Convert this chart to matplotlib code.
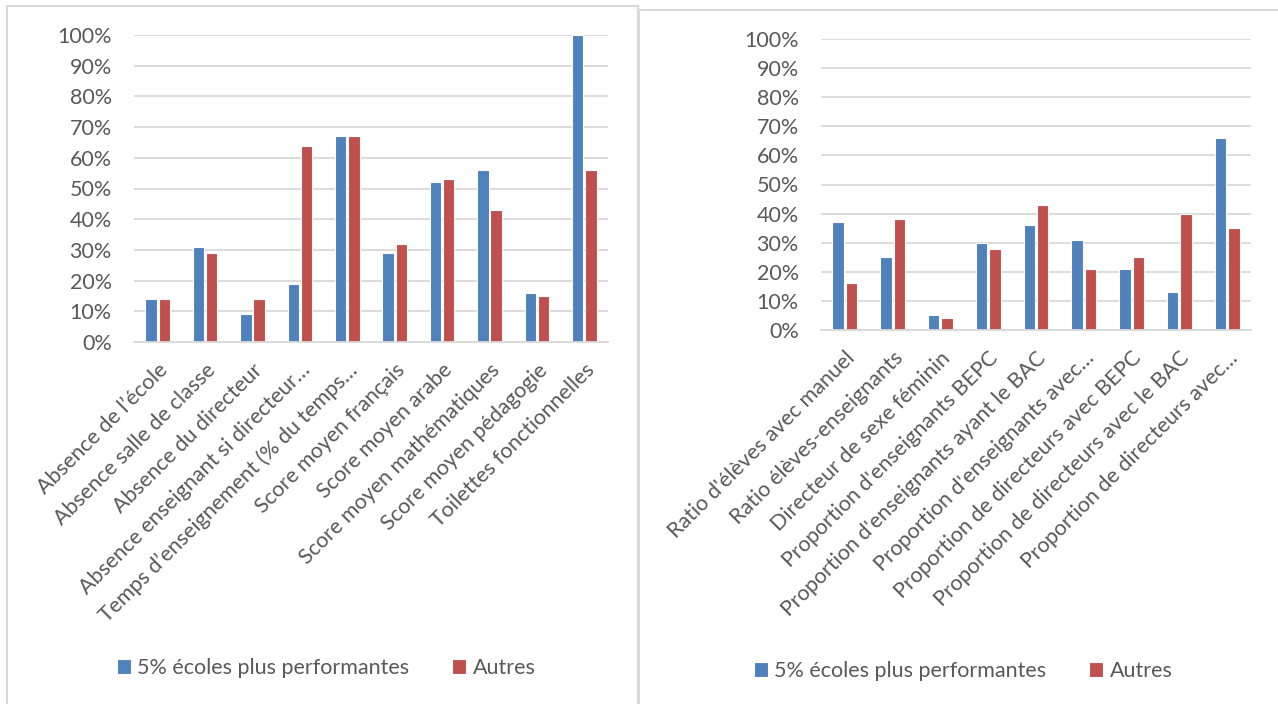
import numpy as np
import matplotlib.pyplot as plt
from matplotlib.patches import Rectangle
from matplotlib.ticker import PercentFormatter

plt.rcParams['font.family'] = ['Lato', 'DejaVu Sans']

BLUE, RED = '#4F81BD', '#C0504D'
TXT, GRID = '#595959', '#D9D9D9'
series_names = ['5% écoles plus performantes', 'Autres']

left_cats = ["Absence de l\u2019école", "Absence salle de classe", "Absence du directeur",
             "Absence enseignant si directeur\u2026", "Temps d\u2019enseignement (% du temps\u2026",
             "Score moyen français", "Score moyen arabe", "Score moyen mathématiques",
             "Score moyen pédagogie", "Toilettes fonctionnelles"]
left_top = [14, 31, 9, 19, 67, 29, 52, 56, 16, 100]
left_other = [14, 29, 14, 64, 67, 32, 53, 43, 15, 56]

right_cats = ["Ratio d'élèves avec manuel", "Ratio élèves-enseignants", "Directeur de sexe féminin",
              "Proportion d'enseignants BEPC", "Proportion d'enseignants ayant le BAC",
              "Proportion d'enseignants avec\u2026", "Proportion de directeurs avec BEPC",
              "Proportion de directeurs avec le BAC", "Proportion de directeurs avec\u2026"]
right_top = [37, 25, 5, 30, 36, 31, 21, 13, 66]
right_other = [16, 38, 4, 28, 43, 21, 25, 40, 35]

W, H = 1278, 704
FS = 15.5
fig = plt.figure(figsize=(W / 100, H / 100), dpi=100)


def px_axes(x0, y0, x1, y1):
    # pixel box (top-left origin) -> figure axes
    return fig.add_axes([x0 / W, 1 - y1 / H, (x1 - x0) / W, (y1 - y0) / H])


def draw(ax, cats, top, other):
    x = np.arange(len(cats))
    ax.set_axisbelow(True)
    ax.bar(x - 0.14, top, width=0.24, color=BLUE, edgecolor='white', linewidth=0.8, label=series_names[0])
    ax.bar(x + 0.14, other, width=0.24, color=RED, edgecolor='white', linewidth=0.8, label=series_names[1])
    ax.set_xlim(-0.5, len(cats) - 0.5)
    ax.set_ylim(0, 100)
    ax.set_yticks(range(0, 101, 10))
    ax.yaxis.set_major_formatter(PercentFormatter(decimals=0))
    ax.yaxis.grid(True, color=GRID, linewidth=1.3)
    for s in ['top', 'right', 'left']:
        ax.spines[s].set_visible(False)
    ax.spines['bottom'].set_color(GRID)
    ax.spines['bottom'].set_linewidth(1.3)
    ax.set_xticks(x)
    ax.set_xticklabels(cats, rotation=45, ha='right', va='top', rotation_mode='anchor')
    ax.tick_params(length=0, colors=TXT, labelsize=FS)
    ax.tick_params(axis='y', pad=16)
    ax.tick_params(axis='x', pad=13)


ax1 = px_axes(134, 35, 608, 342)
draw(ax1, left_cats, left_top, left_other)
ax2 = px_axes(821, 39, 1251, 330)
draw(ax2, right_cats, right_top, right_other)

h, l = ax1.get_legend_handles_labels()
for cx, cy in [(326, 668), (963, 671)]:
    fig.legend(h, l, loc='center', bbox_to_anchor=(cx / W, 1 - cy / H), ncol=2, frameon=False,
               fontsize=FS, labelcolor=TXT, handlelength=0.65, handleheight=0.65,
               handletextpad=0.3, columnspacing=2.0)

# chart frames
fig.patches.append(Rectangle((6.5 / W, -0.05), (631 / W), 1.05 - 6 / H, transform=fig.transFigure,
                             fill=False, edgecolor='#D9D9D9', linewidth=1.5))
fig.patches.append(Rectangle((638.5 / W, -0.05), (645 / W), 1.05 - 10 / H, transform=fig.transFigure,
                             fill=False, edgecolor='#D9D9D9', linewidth=1.5))

fig.savefig('out.png', dpi=100)
